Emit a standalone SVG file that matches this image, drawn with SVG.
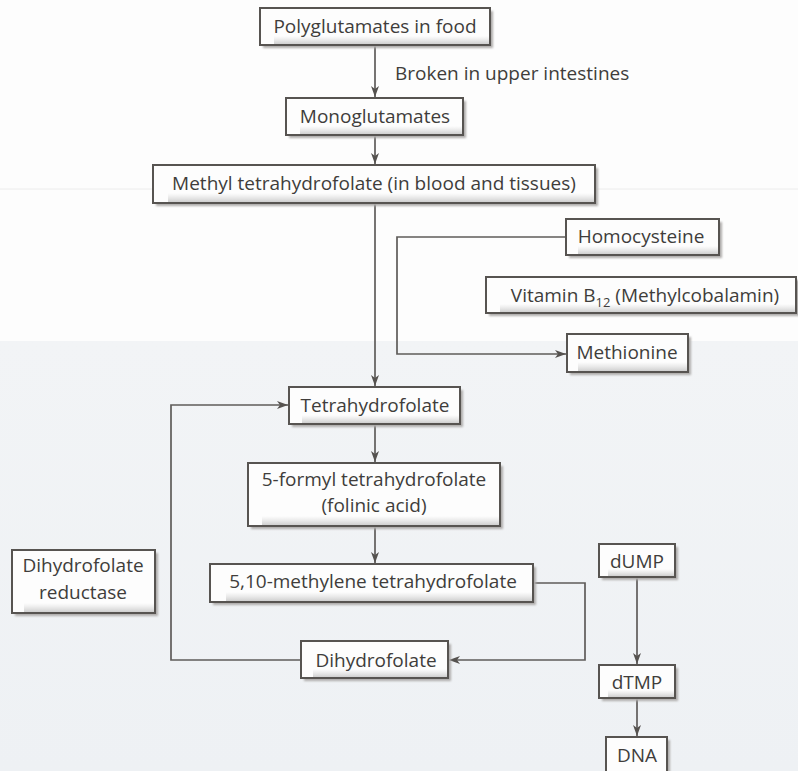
<svg xmlns="http://www.w3.org/2000/svg" width="798" height="771" viewBox="0 0 798 771">
  <defs>
    <style>
      .box { fill: #fdfdfd; stroke: #575451; stroke-width: 2; }
      .shadow { fill: #aeacaa; filter: url(#soft); }
      .band { fill: url(#bandGrad); }
      .lbl { font-family: "Open Sans", "Noto Sans", "Liberation Sans", sans-serif; font-size: 19px; fill: #403d3b; text-anchor: middle; }
      .note { font-family: "Open Sans", "Noto Sans", "Liberation Sans", sans-serif; font-size: 19px; fill: #403d3b; }
      .wire { fill: none; stroke: #5f5c5a; stroke-width: 1.7; }
    </style>
    <filter id="soft" x="-5%" y="-10%" width="110%" height="130%">
      <feGaussianBlur stdDeviation="1"/>
    </filter>
    <linearGradient id="bandGrad" x1="0" y1="0" x2="0" y2="1">
      <stop offset="0" stop-color="#dcdcdc" stop-opacity="0"/>
      <stop offset="1" stop-color="#cfcfcf"/>
    </linearGradient>
    <linearGradient id="pageTint" x1="0" y1="0" x2="0" y2="1">
      <stop offset="0" stop-color="#f2f4f6"/>
      <stop offset="1" stop-color="#eef1f4"/>
    </linearGradient>
    <marker id="arrow" viewBox="0 0 11 8" refX="11" refY="4" markerWidth="11" markerHeight="8" markerUnits="userSpaceOnUse" orient="auto">
      <path d="M0,0 L11,4 L0,8 L3,4 z" fill="#55524f"/>
    </marker>
  </defs>

  <!-- page background: white upper part, tinted table area below -->
  <rect x="0" y="0" width="798" height="771" fill="#fdfdfd"/>
  <rect x="0" y="341" width="798" height="430" fill="url(#pageTint)"/>
  <line x1="0" y1="189" x2="798" y2="189" stroke="#ececec" stroke-width="1"/>

  <!-- connectors -->
  <g id="connectors">
    <line class="wire" x1="375" y1="45" x2="375" y2="97" marker-end="url(#arrow)"/>
    <line class="wire" x1="375" y1="135" x2="375" y2="164" marker-end="url(#arrow)"/>
    <line class="wire" x1="375" y1="203" x2="375" y2="386" marker-end="url(#arrow)"/>
    <path class="wire" d="M566,237 H397 V354 H566" marker-end="url(#arrow)"/>
    <line class="wire" x1="375" y1="424" x2="375" y2="462" marker-end="url(#arrow)"/>
    <line class="wire" x1="375" y1="526" x2="375" y2="563" marker-end="url(#arrow)"/>
    <path class="wire" d="M533,583 H585 V660 H449" marker-end="url(#arrow)"/>
    <path class="wire" d="M301,660 H171 V405 H288" marker-end="url(#arrow)"/>
    <line class="wire" x1="637" y1="577" x2="637" y2="664" marker-end="url(#arrow)"/>
    <line class="wire" x1="637" y1="698" x2="637" y2="736" marker-end="url(#arrow)"/>
    <text class="note" x="395" y="80">Broken in upper intestines</text>
  </g>

  <!-- nodes -->
  <g id="n-polyglutamates">
    <rect class="shadow" x="263" y="11" width="230" height="37"/>
    <rect class="box" x="260" y="8" width="230" height="37"/>
    <rect class="band" x="274" y="36" width="215" height="8"/>
    <text class="lbl" x="375" y="33">Polyglutamates in food</text>
  </g>

  <g id="n-monoglutamates">
    <rect class="shadow" x="289" y="101" width="177" height="37"/>
    <rect class="box" x="286" y="98" width="177" height="37"/>
    <rect class="band" x="300" y="126" width="162" height="8"/>
    <text class="lbl" x="375" y="123">Monoglutamates</text>
  </g>

  <g id="n-methyl-thf">
    <rect class="shadow" x="156" y="168" width="442" height="38"/>
    <rect class="box" x="153" y="165" width="442" height="38"/>
    <rect class="band" x="168" y="193" width="426" height="9"/>
    <text class="lbl" x="374" y="190">Methyl tetrahydrofolate (in blood and tissues)</text>
  </g>

  <g id="n-homocysteine">
    <rect class="shadow" x="569" y="222" width="153" height="36"/>
    <rect class="box" x="566" y="219" width="153" height="36"/>
    <rect class="band" x="578" y="246" width="140" height="8"/>
    <text class="lbl" x="641" y="243">Homocysteine</text>
  </g>

  <g id="n-vitamin-b12">
    <rect class="shadow" x="489" y="280" width="311" height="36"/>
    <rect class="box" x="486" y="277" width="310" height="36"/>
    <rect class="band" x="500" y="304" width="295" height="8"/>
    <text class="lbl" x="645" y="302">Vitamin B<tspan font-size="13" dy="5">12</tspan><tspan dy="-5"> (Methylcobalamin)</tspan></text>
  </g>

  <g id="n-methionine">
    <rect class="shadow" x="570" y="337" width="121" height="38"/>
    <rect class="box" x="567" y="334" width="121" height="38"/>
    <rect class="band" x="578" y="362" width="109" height="9"/>
    <text class="lbl" x="627" y="359">Methionine</text>
  </g>

  <g id="n-thf">
    <rect class="shadow" x="292" y="390" width="171" height="37"/>
    <rect class="box" x="289" y="387" width="171" height="37"/>
    <rect class="band" x="302" y="415" width="157" height="8"/>
    <text class="lbl" x="375" y="412">Tetrahydrofolate</text>
  </g>

  <g id="n-formyl-thf">
    <rect class="shadow" x="251" y="466" width="252" height="63"/>
    <rect class="box" x="248" y="463" width="252" height="63"/>
    <rect class="band" x="262" y="516" width="237" height="9"/>
    <text class="lbl" x="374" y="486">5-formyl tetrahydrofolate</text>
    <text class="lbl" x="374" y="512">(folinic acid)</text>
  </g>

  <g id="n-methylene-thf">
    <rect class="shadow" x="213" y="567" width="323" height="38"/>
    <rect class="box" x="210" y="564" width="323" height="38"/>
    <rect class="band" x="226" y="592" width="306" height="9"/>
    <text class="lbl" x="373" y="588">5,10-methylene tetrahydrofolate</text>
  </g>

  <g id="n-dhf">
    <rect class="shadow" x="304" y="644" width="147" height="37"/>
    <rect class="box" x="301" y="641" width="147" height="37"/>
    <rect class="band" x="313" y="669" width="134" height="8"/>
    <text class="lbl" x="376" y="667">Dihydrofolate</text>
  </g>

  <g id="n-dhf-reductase">
    <rect class="shadow" x="15" y="553" width="143" height="63"/>
    <rect class="box" x="12" y="550" width="143" height="63"/>
    <rect class="band" x="24" y="603" width="130" height="9"/>
    <text class="lbl" x="83" y="572">Dihydrofolate</text>
    <text class="lbl" x="83" y="599">reductase</text>
  </g>

  <g id="n-dump">
    <rect class="shadow" x="602" y="547" width="76" height="33"/>
    <rect class="box" x="599" y="544" width="76" height="33"/>
    <rect class="band" x="608" y="569" width="66" height="7"/>
    <text class="lbl" x="637" y="568">dUMP</text>
  </g>

  <g id="n-dtmp">
    <rect class="shadow" x="602" y="668" width="76" height="33"/>
    <rect class="box" x="599" y="665" width="76" height="33"/>
    <rect class="band" x="608" y="690" width="66" height="7"/>
    <text class="lbl" x="637" y="689">dTMP</text>
  </g>

  <g id="n-dna">
    <rect class="shadow" x="609" y="740" width="61" height="40"/>
    <rect class="box" x="606" y="737" width="61" height="40"/>
    <text class="lbl" x="637" y="762">DNA</text>
  </g>
</svg>
